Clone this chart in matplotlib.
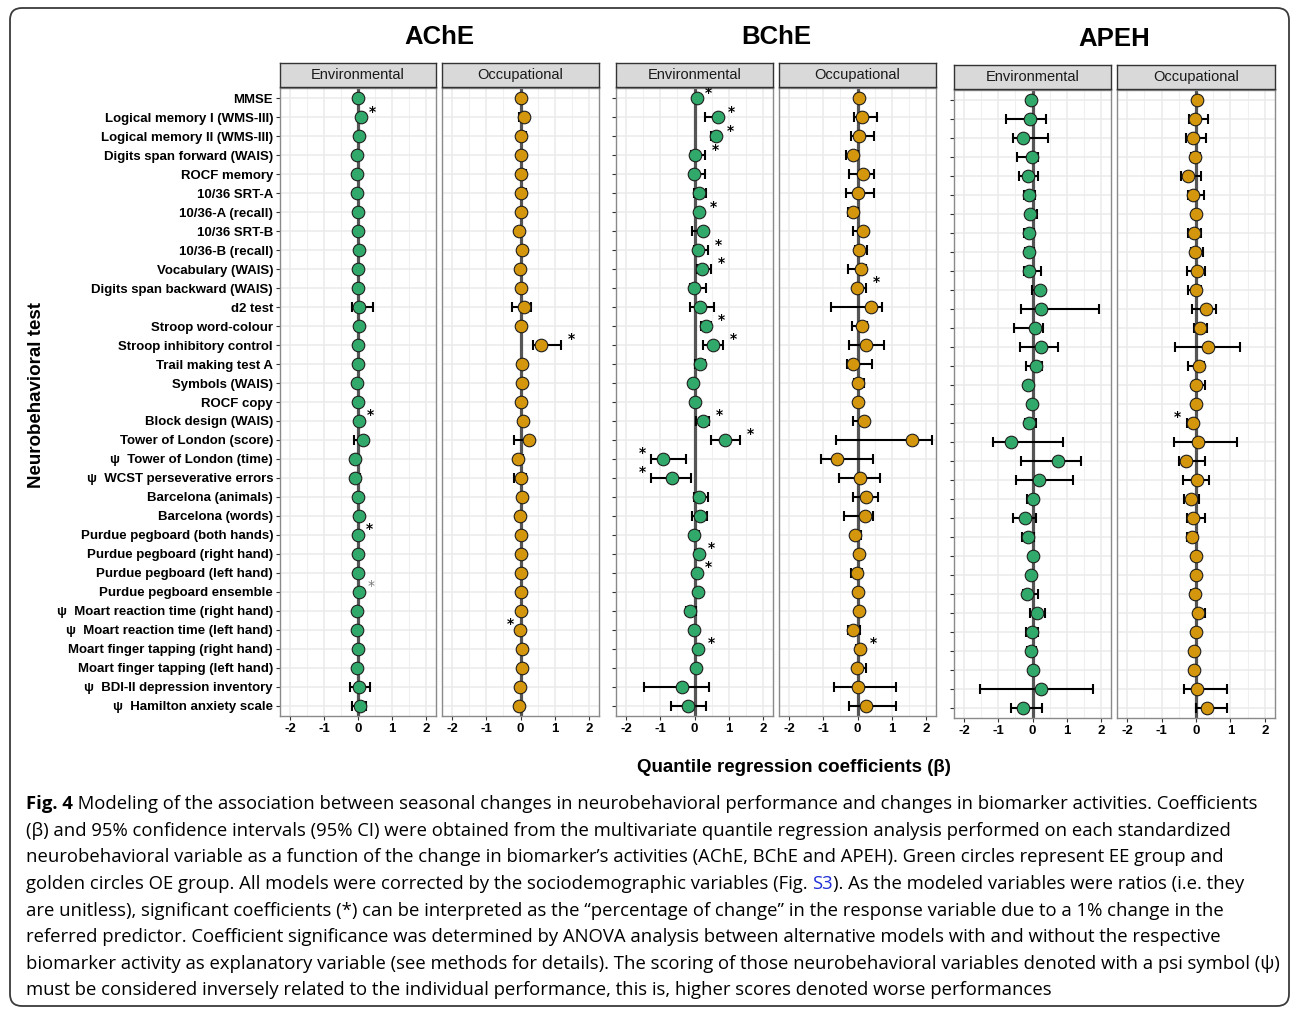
import numpy as np
import matplotlib
matplotlib.use("Agg")
import matplotlib.pyplot as plt
from matplotlib.patches import FancyBboxPatch

W, H = 1292, 1010

tests = [
    "MMSE", "Logical memory I (WMS-III)", "Logical memory II (WMS-III)",
    "Digits span forward (WAIS)", "ROCF memory", "10/36 SRT-A", "10/36-A (recall)",
    "10/36 SRT-B", "10/36-B (recall)", "Vocabulary (WAIS)", "Digits span backward (WAIS)",
    "d2 test", "Stroop word-colour", "Stroop inhibitory control", "Trail making test A",
    "Symbols (WAIS)", "ROCF copy", "Block design (WAIS)", "Tower of London (score)",
    "ψ  Tower of London (time)", "ψ  WCST perseverative errors", "Barcelona (animals)",
    "Barcelona (words)", "Purdue pegboard (both hands)", "Purdue pegboard (right hand)",
    "Purdue pegboard (left hand)", "Purdue pegboard ensemble",
    "ψ  Moart reaction time (right hand)", "ψ  Moart reaction time (left hand)",
    "Moart finger tapping (right hand)", "Moart finger tapping (left hand)",
    "ψ  BDI-II depression inventory", "ψ  Hamilton anxiety scale",
]

biomarkers = ["AChE", "BChE", "APEH"]
groups = ["Environmental", "Occupational"]
x_ticks = [-2, -1, 0, 1, 2]
x_tick_labels = ["-2", "-1", "0", "1", "2"]

# ---- AChE ----
ache_env_est = [0.00, 0.08, 0.04, -0.02, -0.04, -0.04, 0.00, 0.00, 0.02, 0.00, 0.01, 0.04, 0.02, 0.01, 0.00, -0.02, 0.00,
                0.03, 0.16, -0.10, -0.10, 0.00, 0.03, 0.01, 0.00, 0.00, 0.03, -0.02, -0.03, 0.00, -0.02, 0.03, 0.07]
ache_env_lo = [-0.03, 0.03, 0.00, -0.05, -0.07, -0.07, -0.03, -0.03, -0.02, -0.03, -0.02, -0.18, -0.02, -0.02, -0.03, -0.05, -0.03,
               -0.01, -0.12, -0.15, -0.15, -0.03, -0.01, -0.02, -0.03, -0.03, -0.01, -0.05, -0.06, -0.03, -0.05, -0.25, -0.17]
ache_env_hi = [0.03, 0.13, 0.08, 0.02, 0.00, 0.00, 0.03, 0.03, 0.05, 0.03, 0.04, 0.45, 0.05, 0.04, 0.03, 0.01, 0.03,
               0.06, 0.18, 0.04, 0.05, 0.03, 0.06, 0.04, 0.03, 0.03, 0.06, 0.01, 0.00, 0.03, 0.01, 0.36, 0.25]

ache_occ_est = [0.00, 0.10, 0.01, 0.00, 0.00, 0.00, 0.00, -0.03, 0.05, -0.01, 0.01, 0.10, 0.02, 0.61, 0.03, 0.03, 0.02,
                0.06, 0.24, -0.08, 0.00, 0.05, -0.02, 0.02, 0.00, 0.01, 0.02, 0.02, -0.01, 0.04, 0.04, -0.02, -0.04]
ache_occ_lo = [-0.03, -0.05, -0.05, -0.03, -0.03, -0.03, -0.03, -0.06, 0.02, -0.06, -0.02, -0.25, -0.01, 0.38, 0.00, 0.00, -0.01,
               0.03, -0.20, -0.12, -0.20, 0.02, -0.05, -0.01, -0.03, -0.02, -0.01, -0.01, -0.04, 0.01, 0.01, -0.07, -0.12]
ache_occ_hi = [0.03, 0.14, 0.17, 0.03, 0.15, 0.16, 0.03, 0.00, 0.08, 0.05, 0.04, 0.30, 0.05, 1.19, 0.06, 0.06, 0.05,
               0.09, 0.28, 0.08, 0.17, 0.08, 0.06, 0.05, 0.03, 0.04, 0.05, 0.05, 0.02, 0.07, 0.07, 0.07, 0.07]

# ---- BChE ----
bche_env_est = [0.06, 0.68, 0.62, 0.00, -0.02, 0.12, 0.13, 0.25, 0.09, 0.22, -0.01, 0.15, 0.35, 0.54, 0.15, -0.05, 0.00,
                0.24, 0.90, -0.92, -0.66, 0.14, 0.15, -0.01, 0.13, 0.08, 0.10, -0.14, -0.01, 0.10, 0.03, -0.36, -0.18]
bche_env_lo = [0.02, 0.31, 0.47, -0.10, -0.10, -0.02, 0.03, -0.06, -0.02, 0.07, -0.13, -0.14, 0.20, 0.25, 0.02, -0.10, -0.03,
               0.04, 0.47, -1.27, -1.27, -0.02, -0.06, -0.08, 0.02, 0.04, 0.02, -0.24, -0.10, 0.02, -0.01, -1.49, -0.69]
bche_env_hi = [0.10, 0.77, 0.76, 0.32, 0.30, 0.34, 0.25, 0.30, 0.41, 0.48, 0.34, 0.56, 0.49, 0.84, 0.30, 0.08, 0.03,
               0.42, 1.34, -0.25, -0.10, 0.40, 0.37, 0.14, 0.18, 0.12, 0.20, 0.04, 0.06, 0.20, 0.07, 0.43, 0.34]

bche_occ_est = [0.04, 0.12, 0.04, -0.12, 0.17, 0.01, -0.14, 0.17, 0.04, 0.11, -0.01, 0.41, 0.12, 0.24, -0.14, 0.00, 0.01,
                0.18, 1.60, -0.61, 0.08, 0.24, 0.21, -0.08, 0.04, -0.02, 0.00, 0.04, -0.14, 0.08, -0.01, 0.00, 0.24]
bche_occ_lo = [-0.03, -0.11, -0.18, -0.35, -0.26, -0.33, -0.29, -0.13, -0.07, -0.28, -0.11, -0.78, -0.17, -0.24, -0.32, -0.11, -0.02,
               -0.14, -0.63, -1.06, -0.53, -0.14, -0.39, -0.12, -0.05, -0.20, -0.05, 0.00, -0.28, -0.03, -0.05, -0.70, -0.25]
bche_occ_hi = [0.10, 0.56, 0.47, 0.01, 0.48, 0.49, 0.00, 0.25, 0.29, 0.25, 0.25, 0.73, 0.28, 0.79, 0.42, 0.19, 0.04,
               0.32, 2.18, 0.46, 0.66, 0.60, 0.44, 0.10, 0.07, 0.14, 0.13, 0.08, 0.08, 0.15, 0.25, 1.12, 1.12]

# ---- APEH ----
apeh_env_est = [-0.04, -0.07, -0.28, -0.01, -0.12, -0.10, -0.06, -0.09, -0.10, -0.09, 0.22, 0.25, 0.07, 0.26, 0.11, -0.12, -0.01,
                -0.11, -0.63, 0.75, 0.18, 0.02, -0.21, -0.13, 0.01, -0.05, -0.17, 0.12, -0.02, -0.03, 0.01, 0.26, -0.27]
apeh_env_lo = [-0.06, -0.77, -0.56, -0.45, -0.40, -0.25, -0.10, -0.24, -0.22, -0.25, -0.01, -0.33, -0.53, -0.37, -0.18, -0.14, -0.05,
               -0.22, -1.15, -0.35, -0.47, -0.17, -0.58, -0.30, -0.02, -0.08, -0.29, -0.07, -0.18, -0.16, -0.05, -1.53, -0.63]
apeh_env_hi = [-0.01, 0.41, 0.44, 0.16, 0.15, 0.06, 0.14, 0.03, 0.04, 0.24, 0.25, 1.94, 0.31, 0.75, 0.28, -0.09, 0.05,
               0.09, 0.89, 1.42, 1.20, 0.12, 0.11, 0.03, 0.04, -0.02, 0.15, 0.38, 0.17, 0.09, 0.06, 1.76, 0.29]

apeh_occ_est = [0.03, -0.03, -0.10, -0.03, -0.24, -0.10, 0.00, -0.07, -0.04, 0.03, -0.01, 0.30, 0.13, 0.35, 0.08, 0.01, 0.01,
                -0.10, 0.07, -0.28, 0.03, -0.14, -0.10, -0.12, 0.01, 0.00, -0.02, 0.05, -0.01, -0.05, -0.06, 0.02, 0.31]
apeh_occ_lo = [0.00, -0.21, -0.28, -0.16, -0.43, -0.24, -0.10, -0.22, -0.14, -0.26, -0.23, -0.12, -0.06, -0.61, -0.24, -0.10, -0.02,
               -0.26, -0.65, -0.50, -0.39, -0.35, -0.25, -0.25, -0.02, -0.05, -0.16, -0.04, -0.05, -0.08, -0.09, -0.34, -0.01]
apeh_occ_hi = [0.06, 0.35, 0.28, 0.12, 0.15, 0.23, 0.10, 0.15, 0.19, 0.25, 0.16, 0.59, 0.32, 1.28, 0.23, 0.26, 0.04,
               0.02, 1.18, 0.25, 0.39, 0.08, 0.25, 0.04, 0.04, 0.08, 0.10, 0.25, 0.10, -0.02, -0.03, 0.89, 0.89]

# Significant coefficients (1-based row numbers); star drawn right of CI, or left for negative effects
ache_env_sig = [2, 18, 24]
ache_env_sig_faint = [27]
ache_occ_sig = [14]
ache_occ_sig_left = [29]
bche_env_sig = [1, 2, 3, 4, 7, 9, 10, 13, 14, 18, 19, 25, 26, 30]
bche_env_sig_left = [20, 21]
bche_occ_sig = [11, 30]
apeh_occ_sig_left = [18]

GREEN = "#31A96A"
GOLD = "#D4960C"

panels = [
    dict(est=ache_env_est, lo=ache_env_lo, hi=ache_env_hi, color=GREEN, sig=ache_env_sig, faint=ache_env_sig_faint, left=[]),
    dict(est=ache_occ_est, lo=ache_occ_lo, hi=ache_occ_hi, color=GOLD, sig=ache_occ_sig, faint=[], left=ache_occ_sig_left),
    dict(est=bche_env_est, lo=bche_env_lo, hi=bche_env_hi, color=GREEN, sig=bche_env_sig, faint=[], left=bche_env_sig_left),
    dict(est=bche_occ_est, lo=bche_occ_lo, hi=bche_occ_hi, color=GOLD, sig=bche_occ_sig, faint=[], left=[]),
    dict(est=apeh_env_est, lo=apeh_env_lo, hi=apeh_env_hi, color=GREEN, sig=[], faint=[], left=[]),
    dict(est=apeh_occ_est, lo=apeh_occ_lo, hi=apeh_occ_hi, color=GOLD, sig=[], faint=[], left=apeh_occ_sig_left),
]

# panel horizontal extents in pixels and vertical offset per biomarker block
panel_x = [(280, 436), (442, 599), (616, 773), (779, 936), (954, 1111), (1117, 1275)]
block_dy = [0, 0, 2]
PANEL_TOP, PANEL_BOT = 88, 716
STRIP_TOP = 63

fig = plt.figure(figsize=(W / 100, H / 100), dpi=100)
fig.patch.set_facecolor("white")


def px_axes(x0, y0, x1, y1, **kw):
    return fig.add_axes([x0 / W, 1 - y1 / H, (x1 - x0) / W, (y1 - y0) / H], **kw)


# canvas-level axes in pixel units for the frame, titles and caption
bg = px_axes(0, 0, W, H)
bg.set_xlim(0, W)
bg.set_ylim(H, 0)
bg.axis("off")
bg.set_zorder(-5)
bg.add_patch(FancyBboxPatch((10, 8), 1279, 998, boxstyle="round,pad=0,rounding_size=12",
                            fc="white", ec="#3a3a3a", lw=1.3))

LBL_FONT = "Liberation Sans"
rows = np.arange(1, len(tests) + 1)

for i, p in enumerate(panels):
    dy = block_dy[i // 2]
    x0, x1 = panel_x[i]
    ax = px_axes(x0, PANEL_TOP + dy, x1, PANEL_BOT + dy)
    est = np.array(p["est"]); lo = np.array(p["lo"]); hi = np.array(p["hi"])

    ax.set_xlim(-2.3, 2.3)
    ax.set_ylim(33.55, 0.45)
    ax.set_xticks(x_ticks)
    ax.set_xticklabels(x_tick_labels, fontweight="bold", fontsize=9.5, family=LBL_FONT)
    ax.set_xticks([-1.5, -0.5, 0.5, 1.5], minor=True)
    ax.set_yticks(rows)
    ax.grid(which="major", color="#EBEBEB", lw=1.1)
    ax.grid(which="minor", axis="x", color="#F0F0F0", lw=0.8)
    ax.set_axisbelow(True)
    for s in ax.spines.values():
        s.set_color("#8A8A8A")
        s.set_linewidth(1.0)
    ax.tick_params(axis="x", which="major", length=3, color="#333333", pad=2)
    ax.tick_params(axis="x", which="minor", length=0)

    if i == 0:
        ax.set_yticklabels(tests, fontweight="bold", fontsize=9.5, family=LBL_FONT)
        ax.tick_params(axis="y", length=3, color="#333333", pad=2)
    elif i % 2 == 0:
        ax.set_yticklabels([])
        ax.tick_params(axis="y", length=3, color="#333333")
    else:
        ax.set_yticklabels([])
        ax.tick_params(axis="y", length=0)

    ax.axvline(0, color="#555555", lw=2.3, zorder=2)
    ax.errorbar(est, rows, xerr=[np.maximum(est - lo, 0), np.maximum(hi - est, 0)], fmt="none",
                ecolor="black", elinewidth=1.5, capsize=3.6, capthick=1.5, zorder=3)
    ax.scatter(est, rows, s=82, c=p["color"], edgecolors="#1e1e1e", linewidths=0.8, zorder=4)

    for r in p["sig"]:
        ax.text(hi[r - 1] + 0.3, r - 0.3, "*", ha="center", va="center", fontsize=10,
                fontweight="bold", color="black", zorder=5)
    for r in p["faint"]:
        ax.text(hi[r - 1] + 0.33, r - 0.3, "*", ha="center", va="center", fontsize=10,
                color="#777777", zorder=5)
    for r in p["left"]:
        ax.text(lo[r - 1] - 0.27, r - 0.3, "*", ha="center", va="center", fontsize=10,
                fontweight="bold", color="black", zorder=5)

    # facet strip
    st = px_axes(x0, STRIP_TOP + dy, x1, PANEL_TOP - 1 + dy)
    st.set_facecolor("#D9D9D9")
    st.set_xticks([]); st.set_yticks([])
    for s in st.spines.values():
        s.set_color("#333333")
        s.set_linewidth(1.0)
    st.text(0.5, 0.5, groups[i % 2], ha="center", va="center", fontsize=10.5,
            family=LBL_FONT, color="#1a1a1a", transform=st.transAxes)

# biomarker titles
for b, name in enumerate(biomarkers):
    cx = (panel_x[2 * b][0] + panel_x[2 * b + 1][1]) / 2
    bg.text(cx, 37 + block_dy[b], name, ha="center", va="center", fontsize=18.5,
            fontweight="bold", family=LBL_FONT)

bg.text(37, 395, "Neurobehavioral test", rotation=90, ha="center", va="center",
        fontsize=13.5, fontweight="bold", family=LBL_FONT)
bg.text(794, 767, "Quantile regression coefficients (β)", ha="center", va="center",
        fontsize=13.5, fontweight="bold", family=LBL_FONT)

# caption
CAP_FONT = "Open Sans"
CAP_SIZE = 13.3
cap_y = [804, 830.5, 857, 884, 910.5, 937, 964, 990]
t = bg.text(26, cap_y[0], "Fig. 4", fontweight="bold", fontsize=CAP_SIZE, family=CAP_FONT,
            va="center", ha="left")
bg.annotate(" Modeling of the association between seasonal changes in neurobehavioral performance "
            "and changes in biomarker activities. Coefficients",
            xy=(1, 0.5), xycoords=t, va="center", ha="left", fontsize=CAP_SIZE, family=CAP_FONT)
bg.text(26, cap_y[1], "(β) and 95% confidence intervals (95% CI) were obtained from the multivariate "
        "quantile regression analysis performed on each standardized",
        fontsize=CAP_SIZE, family=CAP_FONT, va="center", ha="left")
bg.text(26, cap_y[2], "neurobehavioral variable as a function of the change in biomarker’s activities "
        "(AChE, BChE and APEH). Green circles represent EE group and",
        fontsize=CAP_SIZE, family=CAP_FONT, va="center", ha="left")
t = bg.text(26, cap_y[3], "golden circles OE group. All models were corrected by the sociodemographic "
            "variables (Fig. ", fontsize=CAP_SIZE, family=CAP_FONT, va="center", ha="left")
t = bg.annotate("S3", xy=(1, 0.5), xycoords=t, va="center", ha="left", fontsize=CAP_SIZE,
                family=CAP_FONT, color="#1F2DD6")
bg.annotate("). As the modeled variables were ratios (i.e. they", xy=(1, 0.5), xycoords=t,
            va="center", ha="left", fontsize=CAP_SIZE, family=CAP_FONT)
bg.text(26, cap_y[4], "are unitless), significant coefficients (*) can be interpreted as the "
        "“percentage of change” in the response variable due to a 1% change in the",
        fontsize=CAP_SIZE, family=CAP_FONT, va="center", ha="left")
bg.text(26, cap_y[5], "referred predictor. Coefficient significance was determined by ANOVA analysis "
        "between alternative models with and without the respective",
        fontsize=CAP_SIZE, family=CAP_FONT, va="center", ha="left")
bg.text(26, cap_y[6], "biomarker activity as explanatory variable (see methods for details). The scoring "
        "of those neurobehavioral variables denoted with a psi symbol (ψ)",
        fontsize=CAP_SIZE, family=CAP_FONT, va="center", ha="left")
bg.text(26, cap_y[7], "must be considered inversely related to the individual performance, this is, "
        "higher scores denoted worse performances",
        fontsize=CAP_SIZE, family=CAP_FONT, va="center", ha="left")

fig.savefig("out.png", dpi=100, facecolor="white")
